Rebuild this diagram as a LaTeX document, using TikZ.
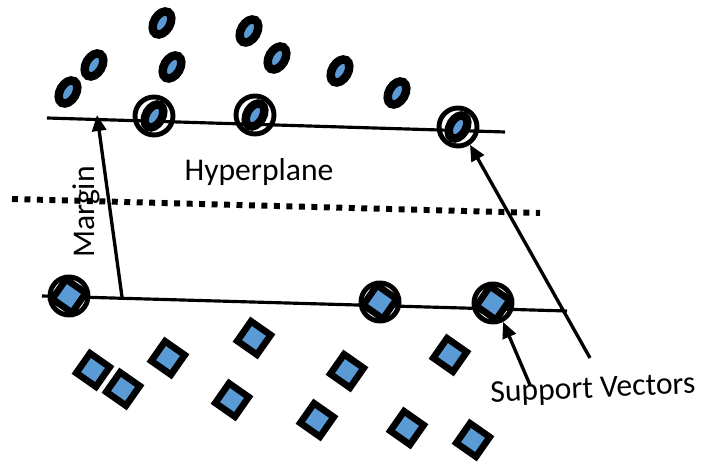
\documentclass[tikz,border=0pt]{standalone}
\usepackage{fontspec}
\setmainfont{Carlito}
\usetikzlibrary{shapes.geometric,arrows.meta}
\definecolor{ptblue}{HTML}{5B9BD5}
\begin{document}
\begin{tikzpicture}[
		oval/.style={ellipse, draw=black, fill=ptblue, line width=2.4pt, inner sep=0pt, minimum width=0.25cm, minimum height=0.16cm, rotate=60},
		sq/.style={rectangle, draw=black, fill=ptblue, line width=1.9pt, inner sep=0pt, minimum size=0.24cm, rotate=-35},
		ring/.style={circle, draw=black, line width=1.4pt, inner sep=0pt, minimum size=0.38cm},
		edge/.style={line width=0.9pt},
		pointer/.style={line width=0.95pt, -{Triangle[length=0.16cm,width=0.14cm]}},
		lbl/.style={font=\fontsize{9}{11}\selectfont, inner sep=0pt}
	]
		\useasboundingbox (0,0) rectangle (7.02,-4.63);

		\coordinate (upl) at (0.47,-1.18);
		\coordinate (upr) at (5.05,-1.32);
		\coordinate (lol) at (0.42,-2.96);
		\coordinate (lor) at (5.67,-3.11);
		\coordinate (hpl) at (0.12,-1.99);
		\coordinate (hpr) at (5.40,-2.13);

		\draw [edge] (upl) -- (upr);
		\draw [edge] (lol) -- (lor);
		\draw [line width=1.7pt, dash pattern=on 1.7pt off 1.85pt] (hpl) -- (hpr);

		\node [oval] (o1) at (1.62,-0.23) {};
		\node [oval] (o2) at (2.49,-0.31) {};
		\node [oval] (o3) at (0.94,-0.65) {};
		\node [oval] (o4) at (1.72,-0.67) {};
		\node [oval] (o5) at (2.77,-0.58) {};
		\node [oval] (o6) at (0.68,-0.92) {};
		\node [oval] (o7) at (3.40,-0.71) {};
		\node [oval] (o8) at (3.97,-0.93) {};
		\node [oval] (o9) at (1.54,-1.16) {};
		\node [oval] (o10) at (2.55,-1.15) {};
		\node [oval] (o11) at (4.58,-1.27) {};

		\node [sq] (s1) at (0.93,-3.70) {};
		\node [sq] (s2) at (1.23,-3.89) {};
		\node [sq] (s3) at (1.68,-3.58) {};
		\node [sq] (s4) at (2.54,-3.38) {};
		\node [sq] (s5) at (2.32,-4.00) {};
		\node [sq] (s6) at (3.47,-3.71) {};
		\node [sq] (s7) at (3.17,-4.20) {};
		\node [sq] (s8) at (4.50,-3.55) {};
		\node [sq] (s9) at (4.07,-4.28) {};
		\node [sq] (s10) at (4.73,-4.40) {};
		\node [sq] (s11) at (0.69,-2.96) {};
		\node [sq] (s12) at (3.80,-3.02) {};
		\node [sq] (s13) at (4.93,-3.03) {};

		\node [ring] (c1) at (o9) {};
		\node [ring] (c2) at (o10) {};
		\node [ring] (c3) at (o11) {};
		\node [ring] (c4) at (s11) {};
		\node [ring] (c5) at (s12) {};
		\node [ring] (c6) at (s13) {};

		\node [lbl] (hyper) at (2.59,-1.72) {Hyperplane};
		\node [lbl, rotate=90] (margin) at (0.86,-2.12) {Margin};
		\node [lbl, rotate=2.5] (support) at (5.93,-3.90) {Support Vectors};

		\coordinate (mfoot) at (1.22,-2.97);
		\coordinate (mtip) at (0.97,-1.15);
		\coordinate (longfoot) at (5.90,-3.58);
		\coordinate (shortfoot) at (5.30,-3.85);

		\draw [pointer] (mfoot) -- (mtip);
		\draw [pointer] (longfoot) -- (c3.-56);
		\draw [pointer] (shortfoot) -- (c6.-62);

		\end{tikzpicture}
\end{document}
